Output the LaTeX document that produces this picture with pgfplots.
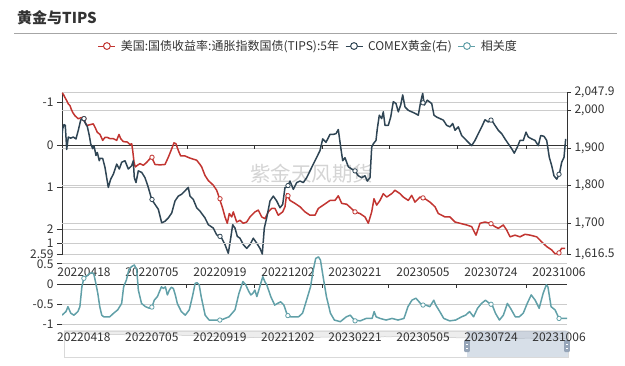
\documentclass[border=0pt]{standalone}
\usepackage{pgfplots}
\pgfplotsset{compat=1.18}
\usepackage{pgfplotstable}
\usepackage{fontspec}
\setmainfont{Noto Sans CJK SC}
\definecolor{cred}{HTML}{C23531}
\definecolor{cdark}{HTML}{2F4554}
\definecolor{cteal}{HTML}{61A0A8}
\definecolor{cgrid}{HTML}{CCCCCC}
\definecolor{ctext}{HTML}{333333}
\definecolor{cslider}{HTML}{A7B7CC}

\pgfplotstableread{
x v
62 -1.23
63.3 -1.20
65 -1.12
66.7 -1.05
68.3 -0.97
70 -0.93
71 -0.86
72.7 -0.77
75 -0.69
78.3 -0.62
81.7 -0.65
83.3 -0.62
86.7 -0.46
90 -0.48
93.3 -0.50
95 -0.42
97.3 -0.30
100 -0.25
102.7 -0.11
105 -0.18
107.3 -0.18
110 -0.15
113.3 -0.15
116.7 -0.11
119 -0.25
120.7 -0.15
123.3 -0.08
127.3 -0.07
130 -0.01
131.7 -0.03
132.7 0.13
134 0.40
135.3 0.52
137.3 0.48
140 0.44
143.3 0.48
146.7 0.41
149.3 0.34
151.7 0.29
155 0.46
160 0.47
165 0.46
168.3 0.29
171.7 0.09
174 -0.05
176 -0.03
178.3 0.13
180.7 0.26
185 0.26
190 0.31
196.7 0.36
200 0.46
201.7 0.52
205 0.72
208.3 0.84
213.3 0.95
216.7 1.07
219.3 1.25
222.7 1.50
225 1.70
227.3 1.85
229.3 1.62
231.7 1.70
233.3 1.58
236.7 1.82
240 1.78
243.3 1.85
246.7 1.82
250 1.70
255 1.58
258.3 1.54
261.7 1.70
265 1.74
268.3 1.58
271.7 1.50
275 1.50
278.3 1.66
282.7 1.58
285 1.46
286.7 1.15
290 1.31
295 1.38
300 1.46
305 1.58
310 1.66
315 1.66
318.3 1.50
323.3 1.42
330 1.31
335 1.31
338.3 1.20
341.7 1.38
346.7 1.40
350 1.47
355 1.58
360 1.62
365 1.70
368.3 1.85
371.7 1.58
374 1.27
376.7 1.42
380 1.31
383.3 1.15
386.7 1.23
391.7 1.15
395 1.07
400 1.15
403.3 1.23
408.3 1.31
411.7 1.19
415 1.35
420 1.23
425 1.27
430 1.35
435 1.46
438.3 1.62
441.7 1.66
445 1.70
450 1.70
455 1.82
460 1.85
466.7 1.89
471.7 1.93
476 2.13
480 1.85
485 1.82
490 1.85
495 1.93
498.3 1.97
503.3 1.89
506.7 2.01
510 2.17
515 2.13
520 2.17
525 2.11
530 2.13
536.7 2.17
541.7 2.29
546.7 2.40
551.7 2.48
555 2.57
558.3 2.56
561.7 2.44
565 2.44
}\redtab

\pgfplotstableread{
x g
62 1933
62.7 1951
64 1962
65.3 1960
66.7 1896
68.3 1929
70.7 1926
73.3 1929
76 1924
78.3 1947
80.7 1974
82.7 1980
85 1968
87.3 1957
89.3 1933
90.7 1911
92.7 1898
94 1906
96 1880
97.3 1888
99.3 1866
100 1872
102.7 1872
105 1848
108.3 1795
110.7 1817
113.3 1830
116.7 1857
119.3 1844
121.7 1862
125 1866
128.3 1844
131.7 1853
133.3 1866
134.3 1821
136 1808
138.3 1839
141.7 1835
145 1821
148.3 1795
151.7 1763
155 1750
158.3 1737
161.7 1701
165 1705
168.3 1714
171.7 1727
175 1759
178.3 1772
181.7 1777
185 1786
188.3 1795
190 1772
193.3 1763
196.7 1741
200 1732
205 1714
208.3 1696
213.3 1687
216.7 1669
219.3 1665
221.7 1660
225 1643
228.3 1620
230.7 1660
232.7 1696
235 1687
237.3 1665
240 1660
243.3 1643
246.7 1633
250 1643
253.3 1660
256.7 1647
260 1633
262.3 1618
264.3 1687
266.7 1714
270 1759
273.3 1772
276.7 1759
280 1741
282.7 1750
285 1795
287.3 1796
290 1812
293.3 1790
296.7 1808
300 1812
303.3 1808
306.7 1821
310 1839
313.3 1857
316.7 1875
320 1893
322.7 1924
326 1915
330 1936
333.3 1936
336 1938
338.3 1949
340.7 1902
342.7 1866
345 1874
348.3 1850
351.7 1844
355 1839
358.3 1826
361.7 1821
365 1826
367.3 1812
370 1821
371.7 1902
373.3 1911
376 1920
377.3 1951
379.3 1987
381.7 1978
383.3 1996
385 1960
388.3 1960
390.7 1982
393.3 2023
396 2018
398.3 1996
400.7 2014
402.7 2041
405 2009
408.3 2000
411.7 1996
415 1992
418.3 1987
420.7 2023
422.7 2045
424.3 2014
427.3 2027
431.7 2018
434 1987
436.7 1982
440 1978
443.3 1974
446.7 1960
450 1956
452.7 1965
455 1947
458.3 1956
461.7 1933
465 1924
468.3 1915
471.7 1906
475 1920
478.3 1938
481.7 1956
485 1975
488.3 1969
491.7 1974
495 1960
498.3 1947
501.7 1938
505 1924
508.3 1911
511.7 1898
514.3 1886
517.3 1902
520 1920
523.3 1920
526 1942
528.3 1929
531.7 1924
535 1920
538.3 1906
540.7 1933
544 1931
546.7 1920
549.3 1875
551.7 1853
554 1826
556.7 1817
559.3 1830
561.7 1862
564 1875
565.7 1924
}\goldtab

\pgfplotstableread{
x c
150 -0.77
160 -0.68
165 -0.56
172 -0.72
180 -0.77
190 -0.68
195 -0.56
200 -0.07
205 0.14
210 0.18
215 0.22
220 0.26
225 0.28
230 0.25
235 0.02
240 -0.23
245 -0.56
250 -0.77
255 -0.81
270 -0.81
280 -0.72
290 -0.64
300 -0.48
305 -0.07
312 0.10
318 0.35
325 0.43
332 0.47
338 0.35
342 -0.15
350 -0.48
360 -0.56
370 -0.60
378 -0.52
382 -0.40
390 -0.31
395 -0.19
400 -0.07
405 -0.11
410 -0.07
415 -0.27
420 -0.15
425 -0.08
430 -0.11
435 -0.27
440 -0.48
450 -0.68
460 -0.77
470 -0.64
478 -0.31
485 0.02
490 0.03
495 -0.02
500 -0.31
510 -0.77
520 -0.89
540 -0.89
555 -0.87
570 -0.81
585 -0.64
595 -0.23
605 0.06
612 -0.02
620 -0.19
625 -0.27
630 -0.23
635 -0.15
640 -0.31
645 -0.15
650 0.02
655 0.18
660 0.06
665 -0.02
675 -0.31
685 -0.52
692 -0.48
700 -0.44
708 -0.52
715 -0.72
725 -0.81
745 -0.81
755 -0.72
765 -0.40
775 -0.07
782 0.35
788 0.63
795 0.67
800 0.59
808 0.10
815 -0.31
825 -0.72
835 -0.89
850 -0.93
865 -0.81
875 -0.77
885 -0.89
900 -0.91
915 -0.85
930 -0.85
935 -0.68
940 -0.81
950 -0.85
965 -0.89
980 -0.85
995 -0.89
1010 -0.85
1020 -0.56
1030 -0.40
1040 -0.35
1048 -0.44
1055 -0.52
1065 -0.52
1075 -0.56
1085 -0.40
1090 -0.52
1100 -0.68
1110 -0.85
1125 -0.91
1140 -0.89
1155 -0.81
1165 -0.77
1175 -0.68
1185 -0.81
1195 -0.60
1205 -0.48
1215 -0.40
1225 -0.48
1232 -0.52
1240 -0.72
1250 -0.89
1260 -0.77
1270 -0.48
1278 -0.60
1290 -0.81
1300 -0.81
1310 -0.72
1320 -0.48
1330 -0.27
1340 -0.40
1350 -0.60
1360 -0.23
1368 -0.02
1372 -0.07
1380 -0.56
1390 -0.64
1400 -0.85
1410 -0.85
1420 -0.85
}\corrtab

\begin{document}
\begin{tikzpicture}
\useasboundingbox (0pt,0pt) rectangle (625pt,365pt);
\node[anchor=west, font=\fontsize{15}{17}\selectfont\bfseries, text=ctext, inner sep=0pt] at (17pt,347pt) {黄金与TIPS};
\draw[color=black!35, line width=0.8pt] (14pt,332pt) -- (617pt,332pt);
\node[font=\fontsize{20.5}{22}\selectfont, text=black!17] at (311.5pt,191pt) {紫金天风期货};

% ---------- data zoom slider (drawn first, labels go over it) ----------
\begin{axis}[at={(64pt,8pt)}, anchor=south west, scale only axis,
  width=504pt, height=26pt, xmin=62, xmax=567, y dir=reverse, ymin=-2.5, ymax=14.1, hide axis]
\addplot[draw=black!22, fill=black!7, line width=0.5pt] table[x=x,y=v]{\redtab} -- (axis cs:565,-2.5) -- (axis cs:62,-2.5) -- cycle;
\end{axis}
\draw[black!15, line width=0.8pt] (64pt,8pt) rectangle (568pt,34pt);
\fill[cslider, opacity=0.45] (467pt,8pt) rectangle (568pt,34pt);
\foreach \hx in {467,567} {
  \fill[cslider!90!black, rounded corners=1pt] (\hx pt-2.8pt,13pt) rectangle (\hx pt+2.8pt,25pt);
  \draw[white, line width=0.6pt] (\hx pt-1.2pt,17pt) -- (\hx pt+1.2pt,17pt);
  \draw[white, line width=0.6pt] (\hx pt-1.2pt,21pt) -- (\hx pt+1.2pt,21pt);
}

% ---------- top panel, left axis (TIPS, inverted) ----------
\begin{axis}[at={(62pt,110.4pt)}, anchor=south west, scale only axis,
  width=505pt, height=162.3pt,
  xmin=62, xmax=567, y dir=reverse, ymin=-1.245, ymax=2.59,
  axis x line*=bottom, axis y line*=left, xtick=\empty,
  axis line style={draw=ctext, line width=0.8pt},
  x axis line style={draw=none},
  ytick={-1,0,1,2,2.59}, yticklabels={-1,0,1,2,2.59},
  extra y ticks={-1.245,-0.819,0.070,0.959,1.848},
  extra y tick labels={},
  extra y tick style={major tick length=0pt},
  tick align=outside, major tick length=5pt,
  y tick style={draw=ctext, line width=0.8pt},
  yticklabel style={font=\fontsize{12}{14}\selectfont, text=ctext},
  ymajorgrids, grid style={cgrid, line width=0.8pt}]
\draw[ctext, line width=0.9pt] (axis cs:62,0) -- (axis cs:567,0);
\pgfplotsinvokeforeach{187,254,322,389,457,526}{\draw[ctext, line width=0.8pt] (axis cs:#1,0) -- ++(0pt,-4pt);}
\addplot[cred, line width=1.5pt, line join=round] table[x=x,y=v]{\redtab};
\addplot[only marks, mark=*, mark size=2.2pt, mark options={draw=cred, fill=white, line width=0.8pt}]
  coordinates {(84,-0.62) (152,0.29) (220,1.27) (288,1.20) (355,1.58) (423,1.25) (491,1.86) (559,2.55)};
\end{axis}

% ---------- top panel, right axis (gold) ----------
\begin{axis}[at={(62pt,110.4pt)}, anchor=south west, scale only axis,
  width=505pt, height=162.3pt,
  xmin=62, xmax=567, ymin=1616.5, ymax=2047.9,
  axis x line*=bottom, axis y line*=right,
  axis line style={draw=ctext, line width=0.8pt},
  x axis line style={draw=none},
  xtick={84,152,220,288,355,423,491,559},
  xticklabels={20220418,20220705,20220919,20221202,20230221,20230505,20230724,20231006},
  x tick style={draw=none},
  xticklabel style={font=\fontsize{12}{14}\selectfont, text=ctext, anchor=center, yshift=-13.4pt},
  ytick={1616.5,1700,1800,1900,2000,2047.9},
  yticklabels={{1,616.5},{1,700},{1,800},{1,900},{2,000},{2,047.9}},
  tick align=outside, major tick length=4pt,
  y tick style={draw=ctext, line width=0.8pt},
  yticklabel style={font=\fontsize{12}{14}\selectfont, text=ctext},
  legend columns=3,
  legend style={draw=none, fill=none, at={(0.488,1.285)}, anchor=center,
    font=\fontsize{12}{14}\selectfont, text=ctext,
    /tikz/every odd column/.append style={column sep=3pt},
    /tikz/every even column/.append style={column sep=4pt}},
  legend image code/.code={\draw[#1] (0pt,0pt) -- (17pt,0pt); \draw[#1, fill=white] (8.5pt,0pt) circle (3.4pt);}]
\addlegendimage{cred, line width=1pt}
\addlegendentry{美国:国债收益率:通胀指数国债(TIPS):5年}
\addlegendimage{cdark, line width=1pt}
\addlegendentry{COMEX黄金(右)}
\addlegendimage{cteal, line width=1pt}
\addlegendentry{相关度}
\addplot[cdark, line width=1.5pt, line join=round, forget plot] table[x=x,y=g]{\goldtab};
\addplot[only marks, mark=*, mark size=2.2pt, mark options={draw=cdark, fill=white, line width=0.8pt}, forget plot]
  coordinates {(84,1978) (152,1763) (220,1665) (288,1800) (355,1839) (423,2020) (491,1974) (559,1830)};
\end{axis}

% ---------- bottom panel (correlation) ----------
\begin{axis}[at={(62pt,40.5pt)}, anchor=south west, scale only axis,
  width=505pt, height=81pt,
  xmin=150, xmax=1420, ymin=-1, ymax=1,
  axis x line*=bottom, axis y line*=left,
  axis line style={draw=none},
  xtick={205,376,547,718,887,1058,1229,1400},
  xticklabels={20220418,20220705,20220919,20221202,20230221,20230505,20230724,20231006},
  x tick style={draw=none},
  xticklabel style={font=\fontsize{12}{14}\selectfont, text=ctext, anchor=center, yshift=-8pt},
  ytick={-1,-0.5,0,0.5,1}, yticklabels={-1,-0.5,0,0.5,1},
  tick align=outside, major tick length=5pt,
  y tick style={draw=ctext, line width=0.8pt},
  yticklabel style={font=\fontsize{12}{14}\selectfont, text=ctext},
  ymajorgrids, grid style={cgrid, line width=0.8pt}]
\draw[ctext, line width=0.9pt] (axis cs:150,0) -- (axis cs:1420,0);
\pgfplotsinvokeforeach{464,633,804,972,1143,1317}{\draw[ctext, line width=0.8pt] (axis cs:#1,0) -- ++(0pt,-4pt);}
\addplot[cteal, line width=1.5pt, line join=round] table[x=x,y=c]{\corrtab};
\addplot[only marks, mark=*, mark size=2.2pt, mark options={draw=cteal, fill=white, line width=0.8pt}]
  coordinates {(205,0.14) (376,-0.57) (547,-0.89) (718,-0.78) (887,-0.91) (1058,-0.52) (1229,-0.50) (1400,-0.85)};
\end{axis}
\end{tikzpicture}
\end{document}
